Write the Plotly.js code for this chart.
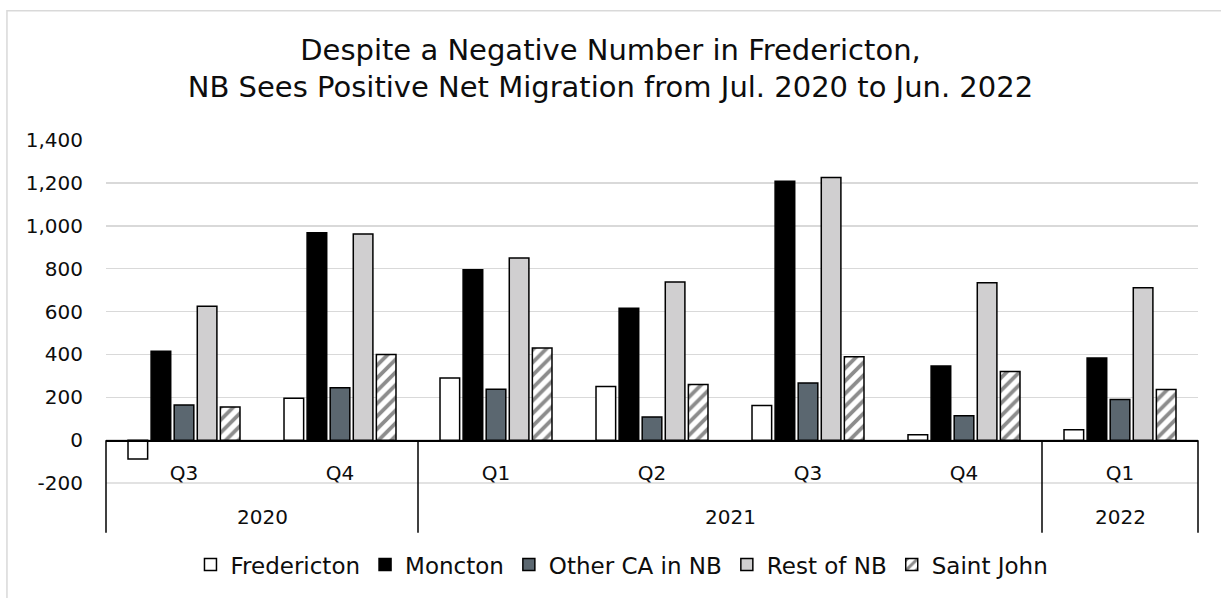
<!DOCTYPE html>
<html>
<head>
<meta charset="utf-8">
<script src="https://cdn.plot.ly/plotly-3.0.1.min.js"></script>
<style>html,body{margin:0;padding:0;background:#fff;}#chart{width:1221px;height:598px;}</style>
</head>
<body>
<div id="chart"></div>
<script>
// Categories (two-level axis)
const years    = ["2020", "2020", "2021", "2021", "2021", "2021", "2022"];
const quarters = ["Q3", "Q4", "Q1", "Q2", "Q3", "Q4", "Q1"];

// Series values (net migration)
const fredericton = [-88, 195, 290, 250, 161, 25, 48];
const moncton     = [414, 967, 795, 615, 1207, 346, 383];
const otherCA     = [164, 244, 237, 108, 266, 114, 190];
const restOfNB    = [624, 961, 850, 738, 1225, 734, 711];
const saintJohn   = [155, 399, 430, 260, 389, 320, 236];

const seriesNames = ["Fredericton", "Moncton", "Other CA in NB", "Rest of NB", "Saint John"];

// Y tick labels
const yTickVals = [-200, 0, 200, 400, 600, 800, 1000, 1200, 1400];
const yTickText = yTickVals.map(v => v.toLocaleString("en-US"));

const FONT = "DejaVu Sans, sans-serif";
const TXT = "#0d0d0d";
const catKeys = years.map((y, i) => y + " " + quarters[i]);
const n = catKeys.length;
const yMin = yTickVals[0], yMax = yTickVals[yTickVals.length - 1];
const outline = {color: "#000000", width: 1.5};

const traces = [
  {name: seriesNames[0], y: fredericton, marker: {color: "#ffffff", line: outline}},
  {name: seriesNames[1], y: moncton,     marker: {color: "#000000", line: outline}},
  {name: seriesNames[2], y: otherCA,     marker: {color: "#5b6770", line: outline}},
  {name: seriesNames[3], y: restOfNB,    marker: {color: "#d0cfd0", line: outline}},
  {name: seriesNames[4], y: saintJohn,   marker: {color: "#ffffff", line: outline,
      pattern: {shape: "/", fgcolor: "#8c8c8c", bgcolor: "#ffffff", size: 9, solidity: 0.42}}}
].map(t => Object.assign({type: "bar", x: catKeys, hoverinfo: "skip"}, t));

// Year groups -> labels and divider lines of the category axis
const groups = [];
years.forEach((y, i) => {
  if (!groups.length || groups[groups.length - 1].year !== y) groups.push({year: y, start: i, end: i});
  else groups[groups.length - 1].end = i;
});
const zeroPaper = (0 - yMin) / (yMax - yMin);
const boxBottom = -0.145;
const shapes = [
  {type: "rect", xref: "paper", yref: "paper", x0: -0.0907, x1: 1.05, y0: -0.4, y1: 1.3768,
   line: {color: "#d9d9d9", width: 1.5}, layer: "below"},
  // gridline at the bottom of the value range (-200)
  {type: "line", xref: "paper", yref: "paper", x0: 0, x1: 1, y0: 0, y1: 0,
   line: {color: "#d9d9d9", width: 1.5}, layer: "below"}
];
const bounds = [0].concat(groups.map(g => g.end + 1));
bounds.forEach(b => shapes.push({type: "line", xref: "paper", yref: "paper",
  x0: b / n, x1: b / n, y0: zeroPaper, y1: boxBottom, line: {color: "#000000", width: 1.5}}));
const annotations = groups.map(g => ({
  text: g.year, xref: "x", yref: "paper", x: (g.start + g.end) / 2, y: -0.1,
  xanchor: "center", yanchor: "middle", showarrow: false,
  font: {family: FONT, size: 20, color: TXT}
}));

const layout = {
  width: 1221, height: 598,
  margin: {l: 106, r: 23, t: 140, b: 113},
  paper_bgcolor: "#ffffff", plot_bgcolor: "#ffffff",
  font: {family: FONT, color: TXT, size: 20},
  title: {
    text: "Despite a Negative Number in Fredericton,<br>NB Sees Positive Net Migration from Jul. 2020 to Jun. 2022",
    font: {family: FONT, size: 29, color: TXT},
    x: 0.5, xref: "container", xanchor: "center",
    y: 0.9005, yref: "container", yanchor: "middle"
  },
  barmode: "group", bargap: 0.26, bargroupgap: 0.15,
  xaxis: {
    type: "category", anchor: "free", position: zeroPaper,
    range: [-0.5, n - 0.5],
    tickvals: catKeys, ticktext: quarters,
    showline: true, linecolor: "#000000", linewidth: 1.5,
    showgrid: false, ticks: "",
    tickfont: {family: FONT, size: 20, color: TXT},
    ticklabelstandoff: 14
  },
  yaxis: {
    range: [yMin, yMax], tickvals: yTickVals, ticktext: yTickText,
    showgrid: true, gridcolor: "#d9d9d9", gridwidth: 1.5,
    zeroline: false, showline: false, ticks: "",
    tickfont: {family: FONT, size: 20, color: TXT},
    ticklabelstandoff: 22
  },
  legend: {
    orientation: "h", x: 0.4725, xanchor: "center", xref: "paper",
    y: -0.238, yanchor: "middle", yref: "paper",
    font: {family: FONT, size: 23, color: TXT},
    itemclick: false, itemdoubleclick: false
  },
  shapes: shapes,
  annotations: annotations,
  showlegend: true
};

Plotly.newPlot("chart", traces, layout, {staticPlot: true, displayModeBar: false});
</script>
</body>
</html>
